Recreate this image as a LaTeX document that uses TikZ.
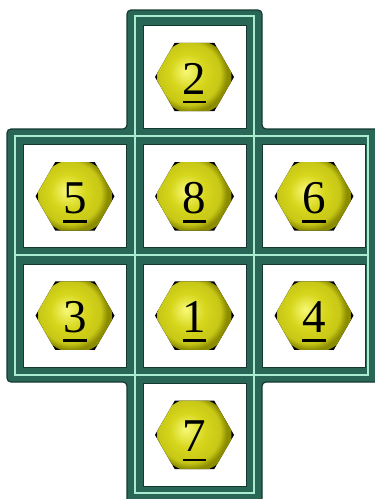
\documentclass[tikz,border=0pt]{standalone}
\usepackage{fontspec}
\setmainfont{Liberation Serif}

\definecolor{board}{RGB}{42,102,86}
\definecolor{boardedge}{RGB}{20,58,48}
\definecolor{seam}{RGB}{170,236,210}
\definecolor{ballhi}{RGB}{248,248,120}
\definecolor{ballmid}{RGB}{214,214,28}
\definecolor{balllo}{RGB}{140,140,0}

\pgfdeclareradialshading{tileball}{\pgfpoint{-6bp}{4bp}}{%
  color(0bp)=(ballhi); color(12bp)=(ballmid); color(21bp)=(ballmid!80!balllo);
  color(25bp)=(balllo); color(50bp)=(balllo)}

% digit with a rule under it
\newcommand\tilenum[1]{\setbox0\hbox{#1}\rlap{\copy0}\rule[-9.3pt]{\wd0}{2.5pt}}

\tikzset{
  seamline/.style={seam, line width=1.3pt},
  cellbox/.style={fill=white, draw=boardedge, line width=0.8pt},
  numlabel/.style={anchor=base, inner sep=0pt, font=\fontsize{47}{47}\selectfont}
}

\begin{document}
\begin{tikzpicture}[x=1pt, y=-1pt]
    \useasboundingbox (0,0) rectangle (375,499);
    \clip (0,0) rectangle (375,499);

    % board
    \path[fill=board, draw=boardedge, line width=1.2pt, rounded corners=4pt]
        (127,10) -- (262,10) -- (262,129) -- (385,129) -- (385,382)
        -- (262,382) -- (262,510) -- (127,510) -- (127,382) -- (7,382)
        -- (7,129) -- (127,129) -- cycle;

    \draw[seamline] (135,16) rectangle (254,493);
    \draw[seamline] (15,136) rectangle (368,375);
    \draw[seamline] (15,255) -- (368,255);

    % tiles
    \foreach \c/\r/\n in {1/0/2, 0/1/5, 1/1/8, 2/1/6, 0/2/3, 1/2/1, 2/2/4, 1/3/7} {
        \coordinate (cell\n) at ({75+119.5*\c}, {77+119.3*\r});
        \draw[cellbox, shift={(cell\n)}] (-51.5,-51.5) rectangle (51.5,51.5);
        \fill[black, shift={(cell\n)}] (0:39.5) -- (60:39.5) -- (120:39.5)
            -- (180:39.5) -- (240:39.5) -- (300:39.5) -- cycle;
        \begin{scope}
            \clip[shift={(cell\n)}] (0:39.5) -- (60:39.5) -- (120:39.5)
                -- (180:39.5) -- (240:39.5) -- (300:39.5) -- cycle;
            \shade[shading=tileball] (cell\n) circle (37);
        \end{scope}
        \node[numlabel] (num\n) at ([yshift=-17pt]cell\n) {\tilenum{\n}};
    }
\end{tikzpicture}
\end{document}
